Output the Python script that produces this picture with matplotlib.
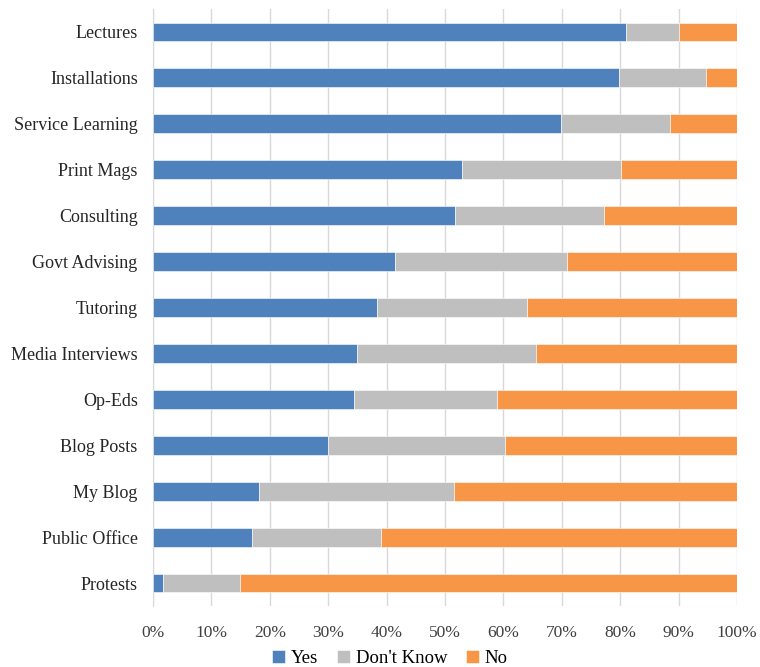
import matplotlib
matplotlib.use('Agg')
import matplotlib.pyplot as plt
import matplotlib.ticker as mticker
import numpy as np

# Daten (Prozent, von oben nach unten)
kategorien = ['Lectures', 'Installations', 'Service Learning', 'Print Mags', 'Consulting',
              'Govt Advising', 'Tutoring', 'Media Interviews', 'Op-Eds', 'Blog Posts',
              'My Blog', 'Public Office', 'Protests']
ja = [81.0, 79.8, 69.9, 52.9, 51.7, 41.4, 38.4, 35.0, 34.4, 30.0, 18.2, 17.0, 1.7]
weiss_nicht = [9.1, 14.9, 18.6, 27.2, 25.5, 29.5, 25.7, 30.5, 24.5, 30.3, 33.3, 22.1, 13.2]
nein = [9.9, 5.3, 11.5, 19.9, 22.8, 29.1, 35.9, 34.5, 41.1, 39.7, 48.5, 60.9, 85.1]

serien = [('Yes', ja, '#4F81BD'), ("Don't Know", weiss_nicht, '#BFBFBF'), ('No', nein, '#F79646')]

plt.rcParams['font.family'] = ['Liberation Serif', 'DejaVu Serif']
plt.rcParams['font.size'] = 12

fig = plt.figure(figsize=(7.6, 6.67), dpi=100)
ax = fig.add_axes([153 / 760, 1 - 606 / 667, 584 / 760, 597 / 667])

y = np.arange(len(kategorien))[::-1]
links = np.zeros(len(kategorien))
for name, werte, farbe in serien:
    werte = np.array(werte) / 100
    ax.barh(y, werte, left=links, height=0.41, color=farbe, edgecolor='white',
            linewidth=0.4, label=name, zorder=3)
    links += werte

ax.set_xlim(0, 1)
ax.set_ylim(-0.5, len(kategorien) - 0.5)
ax.set_yticks(y)
ax.set_yticklabels(kategorien, color='#262626', fontsize=13)
ax.xaxis.set_major_locator(mticker.MultipleLocator(0.1))
ax.xaxis.set_major_formatter(mticker.PercentFormatter(1.0, decimals=0))
ax.tick_params(axis='x', length=0, pad=14, colors='#404040', labelsize=12.5)
ax.tick_params(axis='y', length=0, pad=11)
ax.grid(axis='x', color='#D9D9D9', linewidth=1, zorder=0)
for s in ['top', 'right', 'bottom']:
    ax.spines[s].set_visible(False)
ax.spines['left'].set_color('#D9D9D9')

fig.legend(loc='center', bbox_to_anchor=(0.513, 0.013), ncol=3, frameon=False,
           handlelength=0.7, handleheight=0.7, handletextpad=0.3, columnspacing=1.0,
           fontsize=13.5, borderaxespad=0)

plt.savefig('out.png', dpi=100)
